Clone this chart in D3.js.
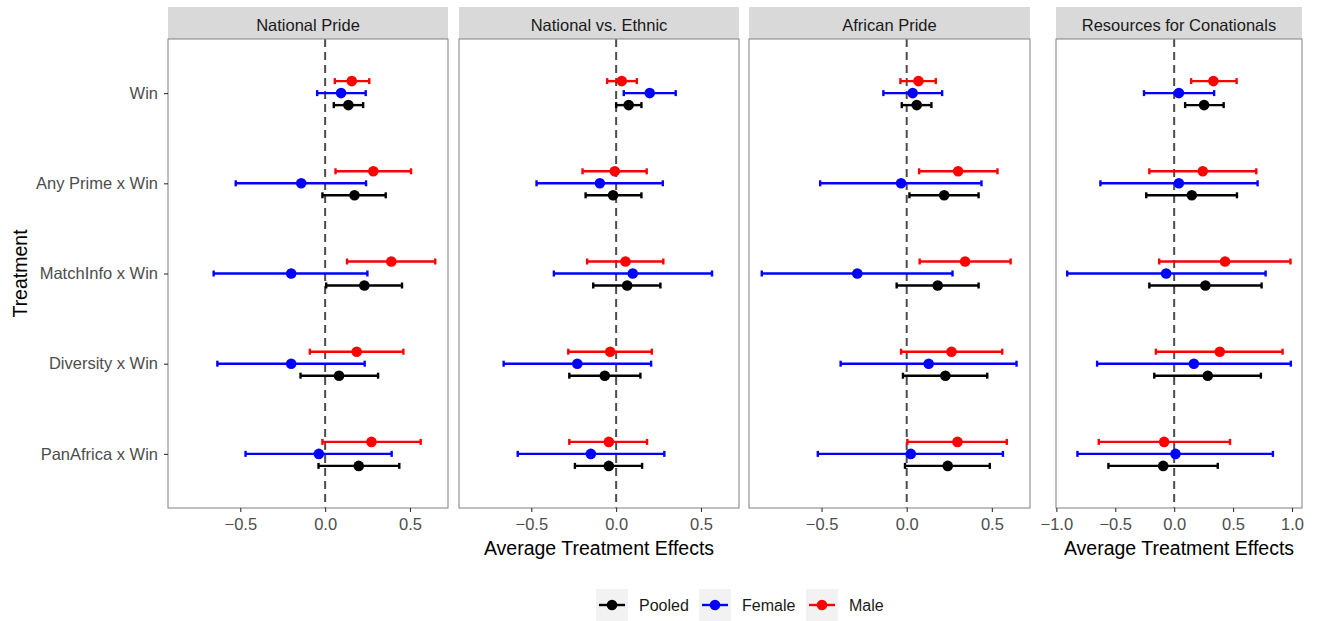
<!DOCTYPE html>
<html>
<head>
  <meta charset="utf-8">
  <title>Treatment effects</title>
  <script src="https://cdn.jsdelivr.net/npm/d3@7"></script>
  <style>
    body { margin: 0; background: #fff; }
    svg { font-family: "Liberation Sans", Arial, sans-serif; }
  </style>
</head>
<body>
<script>
// categories
const treatments = ["Win", "Any Prime x Win", "MatchInfo x Win", "Diversity x Win", "PanAfrica x Win"];
const groups = ["Pooled", "Female", "Male"];
const groupColors = ["black", "blue", "red"];
const panelTitles = ["National Pride", "National vs. Ethnic", "African Pride", "Resources for Conationals"];

// [estimate, lower, upper] per treatment
const npPooled = [[0.137, 0.051, 0.224], [0.173, -0.016, 0.357], [0.231, 0.006, 0.453], [0.082, -0.145, 0.312], [0.198, -0.039, 0.437]];
const npFemale = [[0.094, -0.047, 0.239], [-0.141, -0.527, 0.241], [-0.200, -0.657, 0.249], [-0.200, -0.635, 0.233], [-0.037, -0.469, 0.392]];
const npMale   = [[0.157, 0.057, 0.260], [0.284, 0.061, 0.506], [0.390, 0.129, 0.649], [0.186, -0.090, 0.461], [0.273, -0.016, 0.563]];

const nePooled = [[0.074, 0.000, 0.149], [-0.018, -0.180, 0.149], [0.065, -0.135, 0.261], [-0.067, -0.276, 0.143], [-0.043, -0.243, 0.153]];
const neFemale = [[0.198, 0.045, 0.351], [-0.096, -0.469, 0.275], [0.098, -0.367, 0.565], [-0.229, -0.663, 0.206], [-0.149, -0.580, 0.284]];
const neMale   = [[0.033, -0.053, 0.122], [-0.008, -0.198, 0.180], [0.055, -0.171, 0.278], [-0.035, -0.282, 0.210], [-0.043, -0.276, 0.182]];

const apPooled = [[0.059, -0.029, 0.145], [0.220, 0.016, 0.422], [0.182, -0.059, 0.422], [0.227, -0.022, 0.473], [0.241, -0.010, 0.488]];
const apFemale = [[0.035, -0.137, 0.208], [-0.033, -0.508, 0.439], [-0.290, -0.851, 0.269], [0.129, -0.388, 0.645], [0.024, -0.522, 0.565]];
const apMale   = [[0.069, -0.037, 0.171], [0.302, 0.073, 0.533], [0.343, 0.076, 0.610], [0.263, -0.033, 0.561], [0.298, 0.004, 0.588]];

const rcPooled = [[0.254, 0.093, 0.420], [0.150, -0.237, 0.533], [0.265, -0.211, 0.742], [0.285, -0.169, 0.736], [-0.093, -0.558, 0.370]];
const rcFemale = [[0.040, -0.256, 0.339], [0.040, -0.626, 0.708], [-0.068, -0.908, 0.776], [0.167, -0.654, 0.990], [0.011, -0.821, 0.838]];
const rcMale   = [[0.333, 0.144, 0.530], [0.243, -0.211, 0.697], [0.432, -0.127, 0.987], [0.387, -0.155, 0.920], [-0.085, -0.640, 0.474]];

// x ticks
const ticksLeft = [-0.5, 0, 0.5];
const ticksRight = [-1, -0.5, 0, 0.5, 1];

const panelData = [
  [npPooled, npFemale, npMale],
  [nePooled, neFemale, neMale],
  [apPooled, apFemale, apMale],
  [rcPooled, rcFemale, rcMale]
];

const W = 1317, H = 621;
const plotTop = 39, plotBottom = 508, stripTop = 7;
const panelX = [[168, 448], [459, 739], [749, 1030], [1056, 1302]];
const gray = "#4D4D4D";

const svg = d3.select("body").append("svg")
  .attr("width", W).attr("height", H);

// flatten rows for a panel
function rows(p) {
  const out = [];
  panelData[p].forEach((arr, g) => {
    arr.forEach((v, i) => out.push({ t: treatments[i], g: groups[g], est: v[0], lo: v[1], hi: v[2] }));
  });
  return out;
}

// domain with 5% expansion like ggplot
function expanded(list) {
  const lo = d3.min(list, d => d.lo), hi = d3.max(list, d => d.hi);
  const pad = (hi - lo) * 0.05;
  return [lo - pad, hi + pad];
}
const leftDomain = expanded([0, 1, 2].flatMap(rows));
const rightDomain = expanded(rows(3));

const y = d3.scalePoint().domain(treatments).range([plotTop, plotBottom]).padding(0.6);
const dodge = d3.scalePoint().domain(["Male", "Female", "Pooled"]).range([-12, 12]);
const color = d3.scaleOrdinal().domain(groups).range(groupColors);

panelX.forEach(([x0, x1], p) => {
  const x = d3.scaleLinear().domain(p < 3 ? leftDomain : rightDomain).range([x0, x1]);
  const g = svg.append("g");

  // strip
  g.append("rect").attr("x", x0).attr("y", stripTop).attr("width", x1 - x0).attr("height", plotTop - stripTop)
    .attr("fill", "#D9D9D9");
  g.append("text").attr("x", (x0 + x1) / 2).attr("y", 30.5).attr("text-anchor", "middle")
    .attr("font-size", 16.5).attr("fill", "#1A1A1A").text(panelTitles[p]);

  // zero line
  g.append("line").attr("x1", x(0)).attr("x2", x(0)).attr("y1", plotTop).attr("y2", plotBottom)
    .attr("stroke", "#4D4D4D").attr("stroke-width", 2).attr("stroke-dasharray", "8,5");

  const data = rows(p);
  const bars = g.selectAll(".bar").data(data).enter().append("g")
    .attr("transform", d => `translate(0,${y(d.t) + dodge(d.g)})`)
    .attr("stroke", d => color(d.g)).attr("fill", d => color(d.g));
  bars.append("line").attr("x1", d => x(d.lo)).attr("x2", d => x(d.hi)).attr("stroke-width", 2.4);
  bars.append("line").attr("x1", d => x(d.lo)).attr("x2", d => x(d.lo)).attr("y1", -3).attr("y2", 3).attr("stroke-width", 2.4);
  bars.append("line").attr("x1", d => x(d.hi)).attr("x2", d => x(d.hi)).attr("y1", -3).attr("y2", 3).attr("stroke-width", 2.4);
  bars.append("circle").attr("cx", d => x(d.est)).attr("r", 5.3).attr("stroke", "none");

  // border
  g.append("rect").attr("x", x0).attr("y", plotTop).attr("width", x1 - x0).attr("height", plotBottom - plotTop)
    .attr("fill", "none").attr("stroke", "#8A8A8A").attr("stroke-width", 1.1);

  // x axis
  const ax = g.append("g").attr("transform", `translate(0,${plotBottom})`)
    .call(d3.axisBottom(x).tickValues(p < 3 ? ticksLeft : ticksRight).tickFormat(d3.format(".1f"))
      .tickSize(4).tickPadding(6));
  ax.select(".domain").remove();
  ax.selectAll(".tick line").attr("stroke", "#333").attr("stroke-width", 1.1);
  ax.selectAll(".tick text").attr("font-size", 16.5).attr("fill", gray).attr("font-family", null);

  if (p === 0) {
    const ay = g.append("g").attr("transform", `translate(${x0},0)`)
      .call(d3.axisLeft(y).tickSize(4).tickPadding(6));
    ay.select(".domain").remove();
    ay.selectAll(".tick line").attr("stroke", "#333").attr("stroke-width", 1.1);
    ay.selectAll(".tick text").attr("font-size", 16.5).attr("fill", gray).attr("font-family", null);
  }
});

// axis titles
svg.append("text").attr("x", (panelX[0][0] + panelX[2][1]) / 2).attr("y", 555).attr("text-anchor", "middle")
  .attr("font-size", 19.5).text("Average Treatment Effects");
svg.append("text").attr("x", (panelX[3][0] + panelX[3][1]) / 2).attr("y", 555).attr("text-anchor", "middle")
  .attr("font-size", 19.5).text("Average Treatment Effects");
svg.append("text").attr("transform", `translate(27,${(plotTop + plotBottom) / 2}) rotate(-90)`).attr("text-anchor", "middle")
  .attr("font-size", 19.5).text("Treatment");

// legend
const legendX = [596, 699, 806];
groups.forEach((gName, i) => {
  const lg = svg.append("g").attr("transform", `translate(${legendX[i]},589)`);
  lg.append("rect").attr("width", 32).attr("height", 32).attr("fill", "#F2F2F2");
  lg.append("line").attr("x1", 3).attr("x2", 29).attr("y1", 16).attr("y2", 16)
    .attr("stroke", color(gName)).attr("stroke-width", 2.4);
  lg.append("circle").attr("cx", 16).attr("cy", 16).attr("r", 5.3).attr("fill", color(gName));
  lg.append("text").attr("x", 43).attr("y", 22).attr("font-size", 16).attr("fill", "#1A1A1A").text(gName);
});
</script>
</body>
</html>
